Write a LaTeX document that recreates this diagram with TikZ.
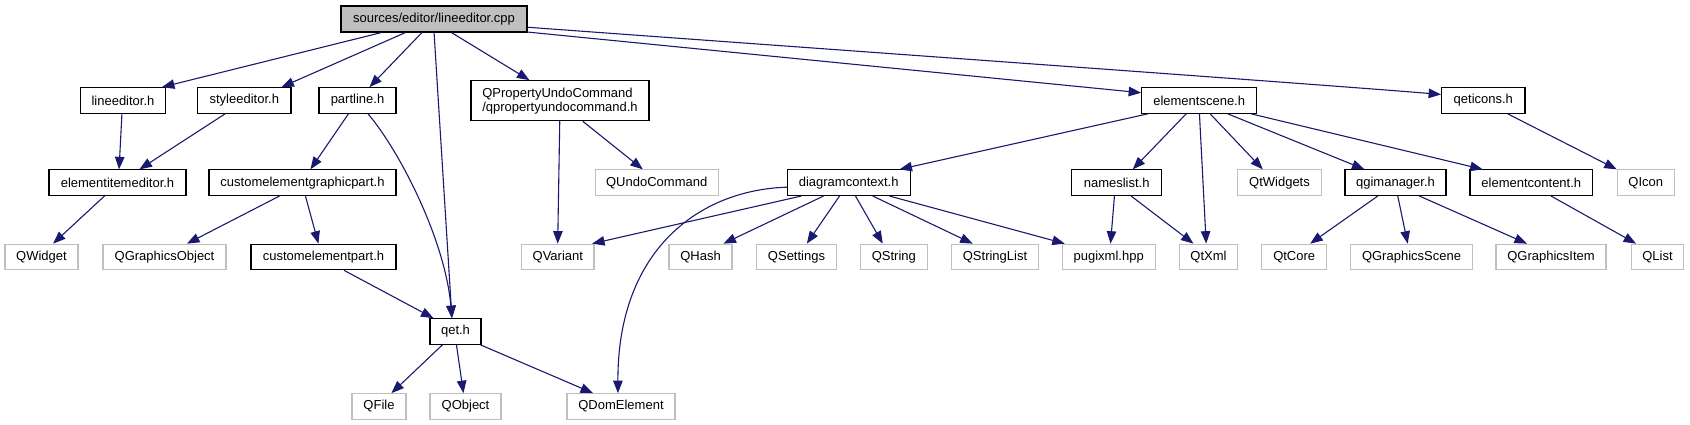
\documentclass[tikz,border=0pt]{standalone}
\usepackage{fontspec}
\setmainfont{Liberation Sans}
\usetikzlibrary{arrows.meta}
\definecolor{edgec}{HTML}{191970}
\definecolor{greyc}{HTML}{BFBFBF}
\newcommand\mylk[4]{\draw[lk] ([xshift=#2pt]#1.south west) -- ([xshift=#4pt]#3.north west);}
\begin{document}
\begin{tikzpicture}[x=1pt,y=-1pt,
  box/.style={draw=black, line width=1.1pt, rectangle, inner sep=0pt,
    font=\fontsize{13}{14}\selectfont, minimum height=25.6pt},
  ext/.style={box, draw=greyc},
  lk/.style={draw=edgec, line width=1.1pt, -{Triangle[length=12.5pt,width=9.5pt]}}]
\useasboundingbox (0,0) rectangle (1690,425);
% row 0
\node[box, fill=greyc, minimum width=186pt, minimum height=26pt] (root) at (434,19) {sources/editor/lineeditor.cpp};
% row 1
\node[box, minimum width=85.4pt] (lineeditor) at (123,100.5) {lineeditor.h};
\node[box, minimum width=93.3pt] (styleeditor) at (244.3,100.5) {styleeditor.h};
\node[box, minimum width=77pt] (partline) at (357.5,100.5) {partline.h};
\node[box, minimum width=178pt, minimum height=40pt, align=left] (qpuc) at (560,100.7) {QPropertyUndoCommand\\/qpropertyundocommand.h};
\node[box, minimum width=115pt] (elementscene) at (1199.2,100.5) {elementscene.h};
\node[box, minimum width=83.3pt] (qeticons) at (1483.3,100.5) {qeticons.h};
% row 2
\node[box, minimum width=137pt] (eie) at (117.5,182.7) {elementitemeditor.h};
\node[box, minimum width=187pt] (cegp) at (302.5,182.7) {customelementgraphicpart.h};
\node[ext, minimum width=122.7pt] (qundo) at (656.7,182.7) {QUndoCommand};
\node[box, minimum width=122.7pt] (dctx) at (848.7,182.7) {diagramcontext.h};
\node[box, minimum width=90pt] (names) at (1116.7,182.7) {nameslist.h};
\node[ext, minimum width=84.3pt] (qtwidgets) at (1279.5,182.7) {QtWidgets};
\node[box, minimum width=101pt] (qgim) at (1395.5,182.7) {qgimanager.h};
\node[box, minimum width=122.7pt] (econt) at (1531.3,182.7) {elementcontent.h};
\node[ext, minimum width=57pt] (qicon) at (1645.8,182.7) {QIcon};
% row 3
\node[ext, minimum width=73pt] (qwidget) at (41.5,257) {QWidget};
\node[ext, minimum width=123pt] (qgobj) at (164.5,257) {QGraphicsObject};
\node[box, minimum width=145pt] (cep) at (323.5,257) {customelementpart.h};
\node[ext, minimum width=72.3pt] (qvariant) at (557.8,257) {QVariant};
\node[ext, minimum width=63pt] (qhash) at (700.5,257) {QHash};
\node[ext, minimum width=80.3pt] (qsettings) at (796.5,257) {QSettings};
\node[ext, minimum width=67pt] (qstring) at (893.8,257) {QString};
\node[ext, minimum width=86.7pt] (qstringlist) at (995,257) {QStringList};
\node[ext, minimum width=92.7pt] (pugi) at (1108.7,257) {pugixml.hpp};
\node[ext, minimum width=58.3pt] (qtxml) at (1208.5,257) {QtXml};
\node[ext, minimum width=65pt] (qtcore) at (1294.2,257) {QtCore};
\node[ext, minimum width=121.7pt] (qgscene) at (1411.5,257) {QGraphicsScene};
\node[ext, minimum width=110pt] (qgitem) at (1551,257) {QGraphicsItem};
\node[ext, minimum width=51.7pt] (qlist) at (1657.5,257) {QList};
% row 4
\node[box, minimum width=51pt] (qet) at (455.5,331.5) {qet.h};
% row 5
\node[ext, minimum width=54pt] (qfile) at (379,406.5) {QFile};
\node[ext, minimum width=71pt] (qobject) at (465.5,406.5) {QObject};
\node[ext, minimum width=108pt] (qdom) at (621,406.5) {QDomElement};
% edges from root
\mylk{root}{41}{lineeditor}{82.2}
\mylk{root}{65}{styleeditor}{84.3}
\mylk{root}{81.5}{partline}{51}
\mylk{root}{93.6}{qet}{22.5}
\mylk{root}{111}{qpuc}{59}
\draw[lk] ([yshift=0.5pt]root.south east) -- ([yshift=-5.6pt]elementscene.north west);
\draw[lk] ([yshift=5.3pt]root.south east) .. controls +(300,22) and +(-120,-10) .. ([yshift=-7.3pt]qeticons.north west);
% row 1 -> below
\mylk{lineeditor}{42.2}{eie}{70.6}
\mylk{styleeditor}{28}{eie}{91}
\mylk{partline}{30}{cegp}{102}
\draw[lk] ([xshift=49.6pt]partline.south west) .. controls +(31.4,37) and +(-7,-79) .. ([xshift=22.5pt]qet.north west);
\mylk{qpuc}{89.3}{qvariant}{36.6}
\mylk{qpuc}{112.3}{qundo}{48}
\mylk{elementscene}{6.6}{dctx}{112.7}
\mylk{elementscene}{45}{names}{61.6}
\mylk{elementscene}{58.3}{qtxml}{27.4}
\mylk{elementscene}{69}{qtwidgets}{26}
\mylk{elementscene}{86.6}{qgim}{20}
\mylk{elementscene}{110}{econt}{13.3}
\mylk{qeticons}{66.6}{qicon}{0}
% row 2 -> below
\mylk{eie}{56}{qwidget}{48.6}
\mylk{cegp}{71}{qgobj}{84.5}
\mylk{cegp}{97}{cep}{68}
\mylk{dctx}{14.4}{qvariant}{71}
\draw[lk] ([yshift=-4.5pt]dctx.west) .. controls +(-86.7,2.7) and +(-0.5,-144) .. ([xshift=51.5pt]qdom.north west);
\mylk{dctx}{36.7}{qhash}{55}
\mylk{dctx}{52.7}{qsettings}{51}
\mylk{dctx}{68.7}{qstring}{23}
\mylk{dctx}{86}{qstringlist}{21.6}
\mylk{dctx}{102.7}{pugi}{3}
\mylk{names}{43.3}{pugi}{48.7}
\mylk{names}{60}{qtxml}{14.7}
\mylk{qgim}{33.3}{qtcore}{49}
\mylk{qgim}{53.3}{qgscene}{57.6}
\mylk{qgim}{75}{qgitem}{31.5}
\mylk{econt}{81.7}{qlist}{5}
% row 3 / 4
\mylk{cep}{93.6}{qet}{4}
\mylk{qet}{13}{qfile}{40}
\mylk{qet}{27}{qobject}{34}
\mylk{qet}{51}{qdom}{26.6}
\end{tikzpicture}
\end{document}
